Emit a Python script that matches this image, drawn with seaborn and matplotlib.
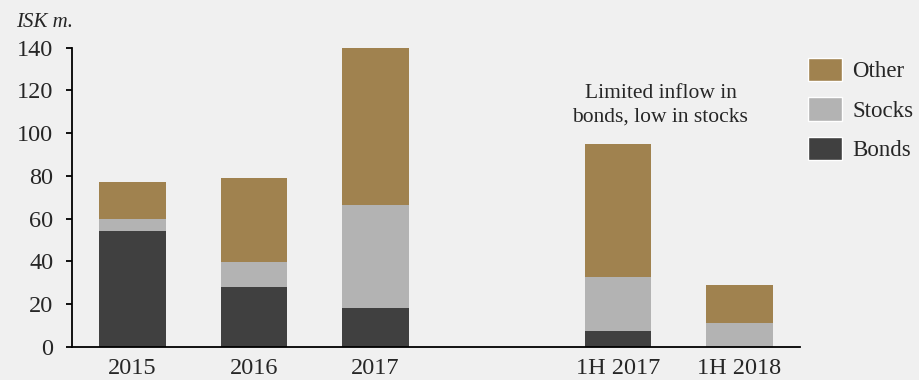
import matplotlib
matplotlib.use("Agg")
import matplotlib.pyplot as plt
import seaborn as sns
import pandas as pd
from matplotlib.patches import Patch

# Fund flows by asset type (ISK m.)
periods = ["2015", "2016", "2017", "1H 2017", "1H 2018"]
bonds = [54, 28, 18, 7.5, 0]
stocks = [6, 11.5, 48.5, 25, 11]
other = [17, 39.5, 73.5, 62.5, 18]

# empty slot separates full years from half-years
order = ["2015", "2016", "2017", " ", "1H 2017", "1H 2018"]

c_other = "#A0824F"
c_stocks = "#B3B3B3"
c_bonds = "#404040"
bg = "#F0F0F0"

df = pd.DataFrame({"period": periods, "bonds": bonds, "stocks": stocks, "other": other})
df["lvl_bonds"] = df["bonds"]
df["lvl_stocks"] = df["bonds"] + df["stocks"]
df["lvl_other"] = df["lvl_stocks"] + df["other"]

sns.set_style("white")
plt.rcParams["font.family"] = ["Liberation Serif", "DejaVu Serif"]

fig = plt.figure(figsize=(9.19, 3.80), dpi=100, facecolor=bg)
ax = fig.add_axes([0.0783, 0.0876, 0.7922, 0.7869])
ax.set_facecolor(bg)

for col, color in [("lvl_other", c_other), ("lvl_stocks", c_stocks), ("lvl_bonds", c_bonds)]:
    sns.barplot(data=df, x="period", y=col, order=order, color=color,
                width=0.55, linewidth=0, saturation=1, ax=ax, errorbar=None)

ax.set_xlim(-0.5, 5.5)
ax.set_ylim(0, 140)
ax.set_yticks(range(0, 141, 20))
ax.set_xlabel("")
ax.set_ylabel("")
sns.despine(ax=ax, top=True, right=True)
for s in ("left", "bottom"):
    ax.spines[s].set_color("black")
    ax.spines[s].set_linewidth(1.3)
ax.tick_params(axis="y", length=4.5, width=1.3, color="black", labelsize=17.5, pad=9, left=True)
ax.tick_params(axis="x", length=0, labelsize=17.5, pad=8)

fig.text(0.0174, 0.942, "ISK m.", fontsize=15, style="italic", ha="left", va="center")

ax.text(4.35, 113, "Limited inflow in\nbonds, low in stocks", ha="center", va="center",
        fontsize=15.5, linespacing=1.28)

handles = [Patch(facecolor=c_other, label="Other"),
           Patch(facecolor=c_stocks, label="Stocks"),
           Patch(facecolor=c_bonds, label="Bonds")]
fig.legend(handles=handles, loc="upper left", bbox_to_anchor=(0.879, 0.848),
           frameon=False, fontsize=16.5, handlelength=1.48, handleheight=1.2,
           handletextpad=0.45, labelspacing=0.66, borderaxespad=0, borderpad=0)

fig.savefig("out.png", dpi=100, facecolor=bg)
